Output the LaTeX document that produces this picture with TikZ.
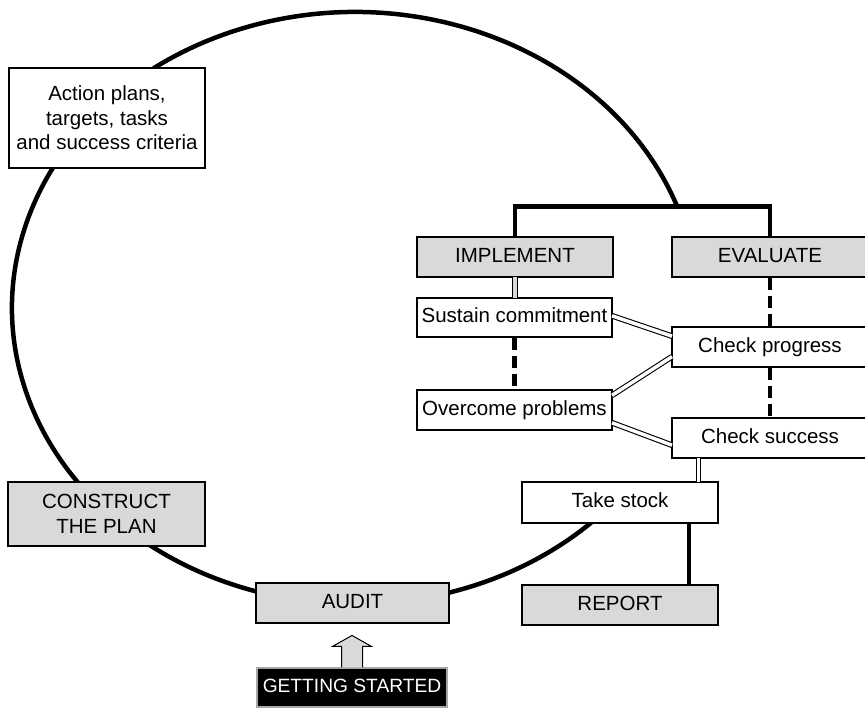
\documentclass[tikz,border=0pt]{standalone}
\usepackage{fontspec}
\setmainfont{Liberation Sans}
\usetikzlibrary{calc}
\definecolor{boxgray}{RGB}{217,217,217}
\begin{document}
\begin{tikzpicture}[x=1pt,y=1pt,
  box/.style={draw=black, line width=1.1pt, inner sep=0pt,
    font=\fontsize{20.5}{24.5}\selectfont, align=center},
  oneline/.style={text height=15pt, text depth=4.5pt},
  graybox/.style={box, fill=boxgray},
  whitebox/.style={box, fill=white},
  heavy/.style={line width=4.5pt},
  heavydash/.style={line width=4.5pt, dash pattern=on 12pt off 6pt},
  dbl/.style={line width=1.1pt, double=white, double distance=3.5pt,
    shorten <=-0.6pt, shorten >=-0.6pt},
  graydbl/.style={dbl, double=boxgray}]
\useasboundingbox (0,0) rectangle (865,708);
\clip (0,0) rectangle (865,708);

% the cycle
\coordinate (ctr) at (355,400);
\draw[heavy] ($(ctr)+(19.7:343pt and 296pt)$)
  arc[start angle=19.7, end angle=313.7, x radius=343pt, y radius=296pt];

% nodes
\node[whitebox, minimum width=196pt, minimum height=100pt] (plans) at (107,590)
  {Action plans,\\targets, tasks\\and success criteria};
\node[graybox, minimum width=197pt, minimum height=64pt] (construct) at (106.5,194)
  {CONSTRUCT\\THE PLAN};
\node[graybox, oneline, minimum width=193pt, minimum height=40pt] (audit) at (352.5,105) {AUDIT};
\node[box, oneline, fill=black, draw=gray!70, text=white, minimum width=190pt,
  minimum height=39pt, font=\fontsize{19.2}{23}\selectfont] (gs) at (352,20.5) {GETTING STARTED};
\node[graybox, oneline, minimum width=196pt, minimum height=40pt] (impl) at (515,451) {IMPLEMENT};
\node[graybox, oneline, minimum width=196pt, minimum height=40pt] (eval) at (770,451) {EVALUATE};
\node[whitebox, oneline, minimum width=195pt, minimum height=39pt] (sustain) at (514.5,390.5) {Sustain commitment};
\node[whitebox, oneline, minimum width=195pt, minimum height=40pt] (overcome) at (514.5,298) {Overcome problems};
\node[whitebox, oneline, minimum width=196pt, minimum height=40pt] (progress) at (770,361) {Check progress};
\node[whitebox, oneline, minimum width=196pt, minimum height=40pt] (success) at (770,270) {Check success};
\node[whitebox, oneline, minimum width=196pt, minimum height=41pt] (take) at (620,205.5) {Take stock};
\node[graybox, oneline, minimum width=196pt, minimum height=40pt] (report) at (620,103) {REPORT};

% bracket
\draw[heavy] (impl.north) -- ++(0,30) -| (eval.north);

% block arrow
\filldraw[fill=boxgray, draw=black, line width=1pt]
  ($(gs.north)+(-10.5,0)$) -- ++(0,21) -- ++(-9,0) -- ($(gs.north)+(0,32)$)
  -- ($(gs.north)+(19.5,21)$) -- ++(-9,0) -- ($(gs.north)+(10.5,0)$);

% connectors
\draw[graydbl] (impl.south) -- (impl.south |- sustain.north);
\draw[heavydash] (sustain.south) -- (overcome.north);
\draw[heavydash] (eval.south) -- (progress.north);
\draw[heavydash] (progress.south) -- (success.north);
\draw[dbl] ($(sustain.east)+(0,1.5)$) -- ($(progress.west)+(0,11)$);
\draw[dbl] ($(overcome.east)+(0,15)$) -- ($(progress.west)+(0,-10)$);
\draw[dbl] ($(overcome.east)+(0,-13)$) -- ($(success.west)+(0,-7)$);
\coordinate (tsa) at ($(take.north east)+(-20,0)$);
\draw[dbl] (tsa) -- (tsa |- success.south);
\draw[heavy] ($(take.south)+(69,0)$) -- ($(report.north)+(69,0)$);
\end{tikzpicture}
\end{document}
